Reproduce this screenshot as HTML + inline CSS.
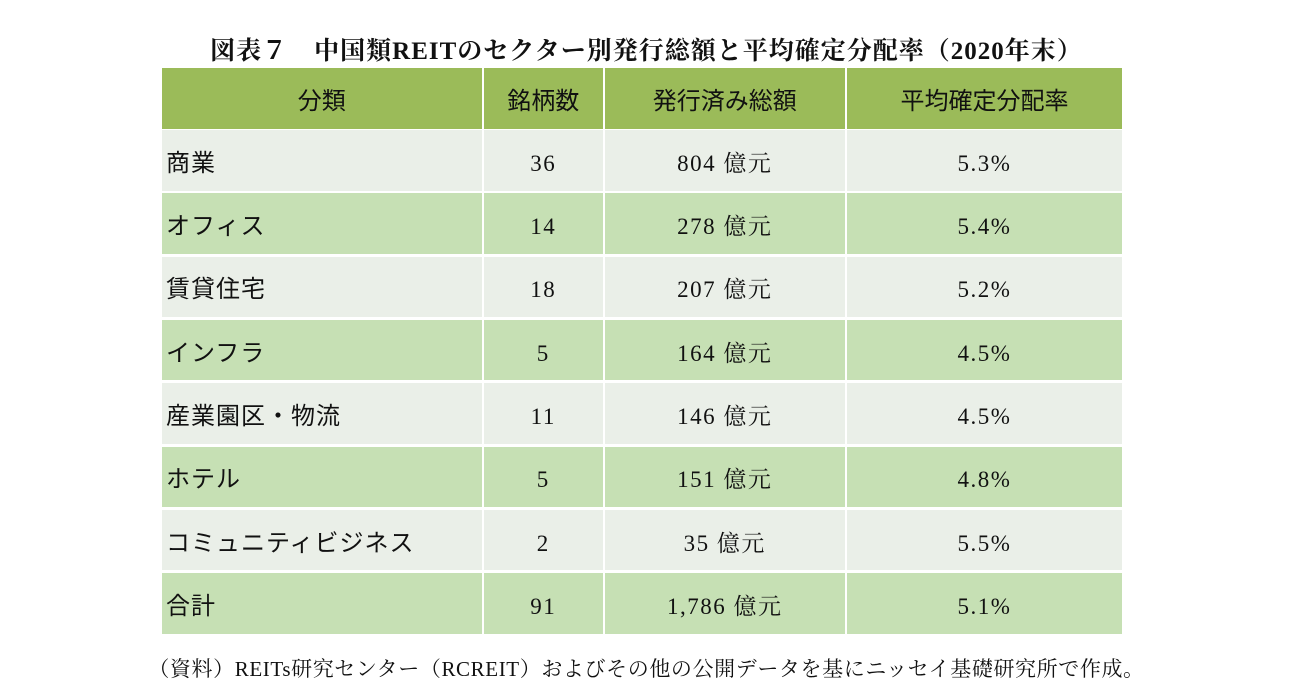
<!DOCTYPE html>
<html><head><meta charset="utf-8"><style>
body{margin:0;width:1293px;height:699px;background:#fff;position:relative;overflow:hidden;font-family:"Liberation Serif","Noto Serif CJK SC",serif;color:#111}
.t{position:absolute;left:0;width:1293px;top:31px;text-align:center;font-size:25px;font-weight:bold;letter-spacing:1px;font-family:"Liberation Serif","Noto Serif CJK SC",serif}
.c{position:absolute;display:flex;align-items:center;justify-content:center;font-size:23px;box-sizing:border-box;line-height:1;padding-top:6px;letter-spacing:1.5px}
.h{background:#9bbb59;font-family:"Liberation Sans","Noto Sans CJK JP",sans-serif;font-size:24px;padding-top:6px;letter-spacing:0}
.o{background:#eaefe8}.e{background:#c6e0b4}
.l{justify-content:flex-start;padding-left:4px;padding-top:7px;letter-spacing:1px;font-family:"Liberation Sans","Noto Sans CJK JP",sans-serif;font-size:24px}
.f{position:absolute;left:0;width:1293px;top:653px;text-align:center;font-size:21px;letter-spacing:0.6px}
</style></head><body>
<div class="t">図表７　中国類REITのセクター別発行総額と平均確定分配率（2020年末）</div>
<div id="tbl"></div>
<div class="f">（資料）REITs研究センター（RCREIT）およびその他の公開データを基にニッセイ基礎研究所で作成。</div>
<script>
const headers=["分類","銘柄数","発行済み総額","平均確定分配率"];
const sectors=["商業","オフィス","賃貸住宅","インフラ","産業園区・物流","ホテル","コミュニティビジネス","合計"];
const counts=["36","14","18","5","11","5","2","91"];
const totals=["804 億元","278 億元","207 億元","164 億元","146 億元","151 億元","35 億元","1,786 億元"];
const rates=["5.3%","5.4%","5.2%","4.5%","4.5%","4.8%","5.5%","5.1%"];
const xs=[162,484,605,847,1122];
const tbl=document.getElementById('tbl');
function cell(txt,r,ci,cls){
  const d=document.createElement('div');
  d.className='c '+cls;
  d.textContent=txt;
  const top=r===0?68:130+(r-1)*63.3;
  const h=r===0?61:60.5;
  d.style.left=xs[ci]+'px';d.style.top=top+'px';
  d.style.width=(xs[ci+1]-xs[ci]-(ci<3?2.5:0))+'px';d.style.height=h+'px';
  
  
  tbl.appendChild(d);
}
headers.forEach((h,i)=>cell(h,0,i,'h'));
sectors.forEach((s,i)=>{
  const cls=i===7?'e':(i%2===0?'o':'e');
  cell(s,i+1,0,cls+' l');
  cell(counts[i],i+1,1,cls);
  cell(totals[i],i+1,2,cls);
  cell(rates[i],i+1,3,cls);
});
</script>
</body></html>
